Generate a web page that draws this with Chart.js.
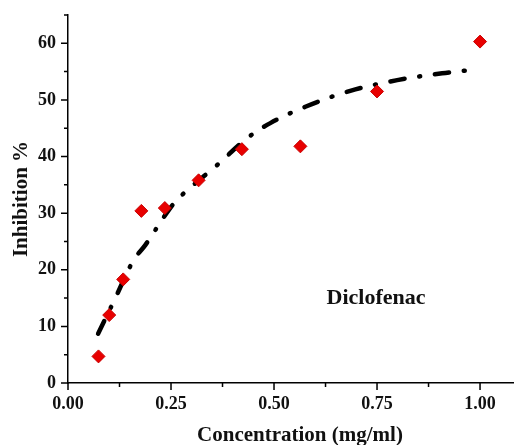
<!DOCTYPE html>
<html>
<head>
<meta charset="utf-8">
<script src="https://cdn.jsdelivr.net/npm/chart.js@4.4.0/dist/chart.umd.min.js"></script>
<style>
  html, body { margin: 0; padding: 0; background: #fff; }
  #wrap { width: 515px; height: 445px; }
</style>
</head>
<body>
<div id="wrap"><canvas id="myChart" width="515" height="445"></canvas></div>
<script>
// measured points (mg/ml, % inhibition)
var concX = [0.074, 0.100, 0.134, 0.178, 0.235, 0.317, 0.422, 0.564, 0.750, 1.000];
var inhibY = [4.7, 12.0, 18.3, 30.4, 30.9, 35.8, 41.3, 41.8, 51.5, 60.3];

// fitted trend line
var fitX = [0.073, 0.111, 0.159, 0.188, 0.248, 0.281, 0.362, 0.434, 0.491, 0.576, 0.685, 0.799, 0.908, 0.968];
var fitY = [8.7, 14.4, 21.7, 24.4, 30.9, 33.5, 38.5, 43.2, 45.9, 48.8, 51.6, 53.5, 54.7, 55.2];

var xTicks = [0, 0.25, 0.5, 0.75, 1.0];
var yTicks = [0, 10, 20, 30, 40, 50, 60];

var serif = "'Liberation Serif', 'Times New Roman', serif";

function toPoints(xs, ys) {
    var pts = [];
    for (var i = 0; i < xs.length; i++) {
        pts.push({x: xs[i], y: ys[i]});
    }
    return pts;
}

// ticks outside the axes, long for major, short for minor
var tickMarks = {
    id: 'tickMarks',
    afterDraw: function(chart) {
        var ctx = chart.ctx;
        var xs = chart.scales.x;
        var ys = chart.scales.y;
        var area = chart.chartArea;
        ctx.save();
        ctx.strokeStyle = '#000';
        ctx.lineWidth = 1.5;
        ctx.beginPath();
        for (var i = 0; i < xTicks.length; i++) {
            var px = xs.getPixelForValue(xTicks[i]);
            ctx.moveTo(px, area.bottom);
            ctx.lineTo(px, area.bottom + 7);
            if (i < xTicks.length - 1) {
                var mx = xs.getPixelForValue((xTicks[i] + xTicks[i + 1]) / 2);
                ctx.moveTo(mx, area.bottom);
                ctx.lineTo(mx, area.bottom + 4);
            }
        }
        for (var j = 0; j < yTicks.length; j++) {
            var py = ys.getPixelForValue(yTicks[j]);
            ctx.moveTo(area.left, py);
            ctx.lineTo(area.left - 7, py);
            var my = ys.getPixelForValue(yTicks[j] + 5);
            ctx.moveTo(area.left, my);
            ctx.lineTo(area.left - 4, my);
        }
        ctx.stroke();

        ctx.fillStyle = '#111';
        ctx.textAlign = 'center';
        ctx.textBaseline = 'middle';
        // x axis title
        ctx.font = "bold 21px " + serif;
        ctx.fillText('Concentration (mg/ml)', 300, 436);
        // sample name inside the plot
        ctx.font = "bold 22px " + serif;
        ctx.fillText('Diclofenac', 376, 298);
        ctx.restore();
    }
};

var ctx = document.getElementById("myChart").getContext('2d');
var myChart = new Chart(ctx, {
    type: 'scatter',
    data: {
        datasets: [{
            data: toPoints(concX, inhibY),
            pointStyle: 'rectRot',
            pointRadius: 6.5,
            pointHoverRadius: 6.5,
            backgroundColor: 'rgb(232,0,0)',
            borderColor: 'rgb(200,0,0)',
            borderWidth: 1,
            order: 1
        }, {
            data: toPoints(fitX, fitY),
            showLine: true,
            fill: false,
            pointRadius: 0,
            borderColor: '#000',
            borderWidth: 4.5,
            borderDash: [14, 15, 1, 15],
            borderCapStyle: 'round',
            tension: 0.35,
            order: 2
        }]
    },
    options: {
        responsive: false,
        animation: false,
        layout: {
            autoPadding: false,
            padding: {left: 0, top: 15, right: 2, bottom: 0}
        },
        plugins: {
            legend: { display: false },
            tooltip: { enabled: false }
        },
        scales: {
            x: {
                type: 'linear',
                min: 0,
                max: 1.08,
                afterFit: function(scale) { scale.height = 62; },
                afterBuildTicks: function(scale) {
                    scale.ticks = xTicks.map(function(v) { return {value: v}; });
                },
                grid: {
                    drawOnChartArea: false,
                    color: 'rgba(0,0,0,0)',
                    tickLength: 8
                },
                border: { color: '#000', width: 1.5 },
                ticks: {
                    color: '#111',
                    padding: 3,
                    maxRotation: 0,
                    font: { family: serif, size: 18, weight: 'bold' },
                    callback: function(v) { return v.toFixed(2); }
                }
            },
            y: {
                min: 0,
                max: 65,
                afterFit: function(scale) { scale.width = 68; },
                afterBuildTicks: function(scale) {
                    scale.ticks = yTicks.map(function(v) { return {value: v}; });
                },
                grid: {
                    drawOnChartArea: false,
                    color: 'rgba(0,0,0,0)',
                    tickLength: 8
                },
                border: { color: '#000', width: 1.5 },
                ticks: {
                    color: '#111',
                    padding: 4,
                    font: { family: serif, size: 18, weight: 'bold' }
                },
                title: {
                    display: true,
                    text: 'Inhibition %',
                    color: '#111',
                    padding: {top: 9, bottom: 0},
                    font: { family: serif, size: 21, weight: 'bold' }
                }
            }
        }
    },
    plugins: [tickMarks]
});
</script>
</body>
</html>
